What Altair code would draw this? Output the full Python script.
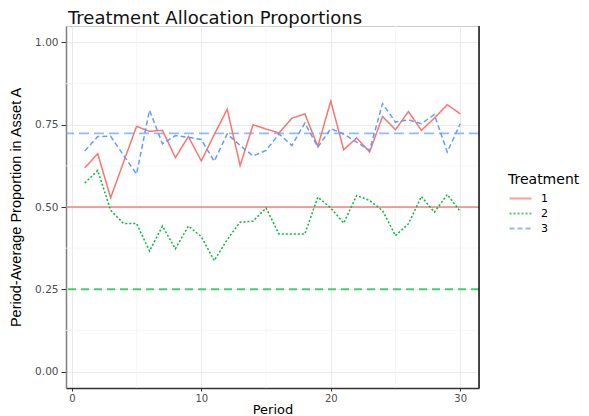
import altair as alt
import pandas as pd

periods = list(range(1, 31))
treat1 = [0.619, 0.662, 0.528, 0.637, 0.745, 0.730, 0.733, 0.650, 0.714, 0.640,
          0.720, 0.797, 0.626, 0.750, 0.737, 0.725, 0.770, 0.783, 0.684, 0.822,
          0.674, 0.710, 0.667, 0.775, 0.735, 0.790, 0.733, 0.770, 0.811, 0.783]
treat2 = [0.573, 0.611, 0.490, 0.450, 0.450, 0.366, 0.442, 0.373, 0.442, 0.410,
          0.337, 0.401, 0.454, 0.457, 0.497, 0.418, 0.418, 0.418, 0.530, 0.497,
          0.451, 0.535, 0.520, 0.489, 0.413, 0.449, 0.532, 0.484, 0.538, 0.487]
treat3 = [0.670, 0.714, 0.715, 0.657, 0.600, 0.794, 0.692, 0.717, 0.712, 0.705,
          0.639, 0.722, 0.687, 0.655, 0.672, 0.722, 0.687, 0.755, 0.682, 0.738,
          0.722, 0.697, 0.672, 0.814, 0.758, 0.765, 0.753, 0.781, 0.667, 0.753]
treatments = ["1", "2", "3"]
reference_levels = [0.50, 0.25, 0.724]
x_ticks = [0, 10, 20, 30]
y_ticks = [0.00, 0.25, 0.50, 0.75, 1.00]
minor_x = [5, 15, 25]
minor_y = [0.125, 0.375, 0.625, 0.875]

colors = ["#F8766D", "#00BA38", "#619CFF"]
series_dash = [[1, 0], [2, 2], [5, 3]]
ref_dash = [[1, 0], [8, 5], [10, 5]]

rows = []
for t, vals in zip(treatments, [treat1, treat2, treat3]):
    for p, v in zip(periods, vals):
        rows.append({"Period": p, "Prop": v, "Treatment": t})
df = pd.DataFrame(rows)
ref_df = pd.DataFrame({"Treatment": treatments, "level": reference_levels})

W, H = 413, 362
xscale = alt.Scale(domain=[-0.45, 31.45], nice=False, zero=False)
yscale = alt.Scale(domain=[-0.05, 1.05], nice=False)
color_scale = alt.Scale(domain=treatments, range=colors)

FONT = "DejaVu Sans"

x_axis = alt.Axis(values=x_ticks, title="Period", grid=True, gridColor="#EBEBEB",
                  domainColor="#333333", domainWidth=1.5, tickColor="#333333",
                  tickSize=3, labelPadding=2, labelFont=FONT, labelFontSize=10,
                  labelColor="#4D4D4D", titleFont=FONT, titleFontSize=13,
                  titleFontWeight="normal", titleColor="#000000", titlePadding=0,
                  format="d")
y_axis = alt.Axis(values=y_ticks, title="Period-Average Proportion in Asset A",
                  grid=True, gridColor="#EBEBEB", domainColor="#7F7F7F",
                  domainWidth=1.5, tickColor="#333333", tickSize=5, labelPadding=3,
                  labelFont=FONT, labelFontSize=10.5, labelColor="#4D4D4D",
                  titleFont="Liberation Sans", titleFontSize=14.5,
                  titleFontWeight="normal", titleColor="#000000", titlePadding=11,
                  format=".2f")

minor_vx = alt.Chart(pd.DataFrame({"mx": minor_x})).mark_rule(
    color="#F4F4F4", strokeWidth=0.8).encode(x=alt.X("mx:Q", scale=xscale, axis=x_axis))
minor_hy = alt.Chart(pd.DataFrame({"my": minor_y})).mark_rule(
    color="#F4F4F4", strokeWidth=0.8).encode(y=alt.Y("my:Q", scale=yscale, axis=y_axis))

ref_layers = []
for t, dash in zip(treatments, ref_dash):
    ref_layers.append(
        alt.Chart(ref_df).transform_filter(alt.datum.Treatment == t)
        .mark_rule(strokeWidth=1.8, opacity=0.7, strokeDash=dash)
        .encode(y=alt.Y("level:Q", scale=yscale),
                color=alt.Color("Treatment:N", scale=color_scale))
    )

lines = alt.Chart(df).mark_line(strokeWidth=1.5).encode(
    x=alt.X("Period:Q", scale=xscale),
    y=alt.Y("Prop:Q", scale=yscale),
    color=alt.Color("Treatment:N", scale=color_scale,
                    legend=alt.Legend(title="Treatment")),
    strokeDash=alt.StrokeDash("Treatment:N",
                              scale=alt.Scale(domain=treatments, range=series_dash),
                              legend=alt.Legend(title="Treatment")),
)

right_border = alt.Chart(pd.DataFrame({"a": [0]})).mark_rule(
    color="#111111", strokeWidth=1.5).encode(
    x=alt.value(W), y=alt.value(0), y2=alt.value(H))

chart = alt.layer(minor_vx, minor_hy, *ref_layers, lines, right_border).properties(
    width=W, height=H,
    autosize=alt.AutoSizeParams(type="none"),
    padding={"left": 58, "top": 18, "right": 102, "bottom": 28},
    title=alt.TitleParams("Treatment Allocation Proportions", anchor="start",
                          frame="group", font=FONT, fontSize=18,
                          fontWeight="normal", color="#111111", offset=-3, dx=2),
).configure_view(
    stroke="#CCCCCC", strokeWidth=1
).configure_legend(
    orient="none", legendX=442, legendY=147,
    titleFont=FONT, titleFontSize=14, titleFontWeight="normal", titleColor="#000000",
    titlePadding=2, labelFont=FONT, labelFontSize=11, labelColor="#000000",
    symbolType="M-1.33,0H1.33", symbolSize=272, symbolStrokeWidth=2, symbolOffset=3,
    labelOffset=11, rowPadding=0
)

chart.save("out.html", embed_options={"renderer": "svg", "actions": False})
